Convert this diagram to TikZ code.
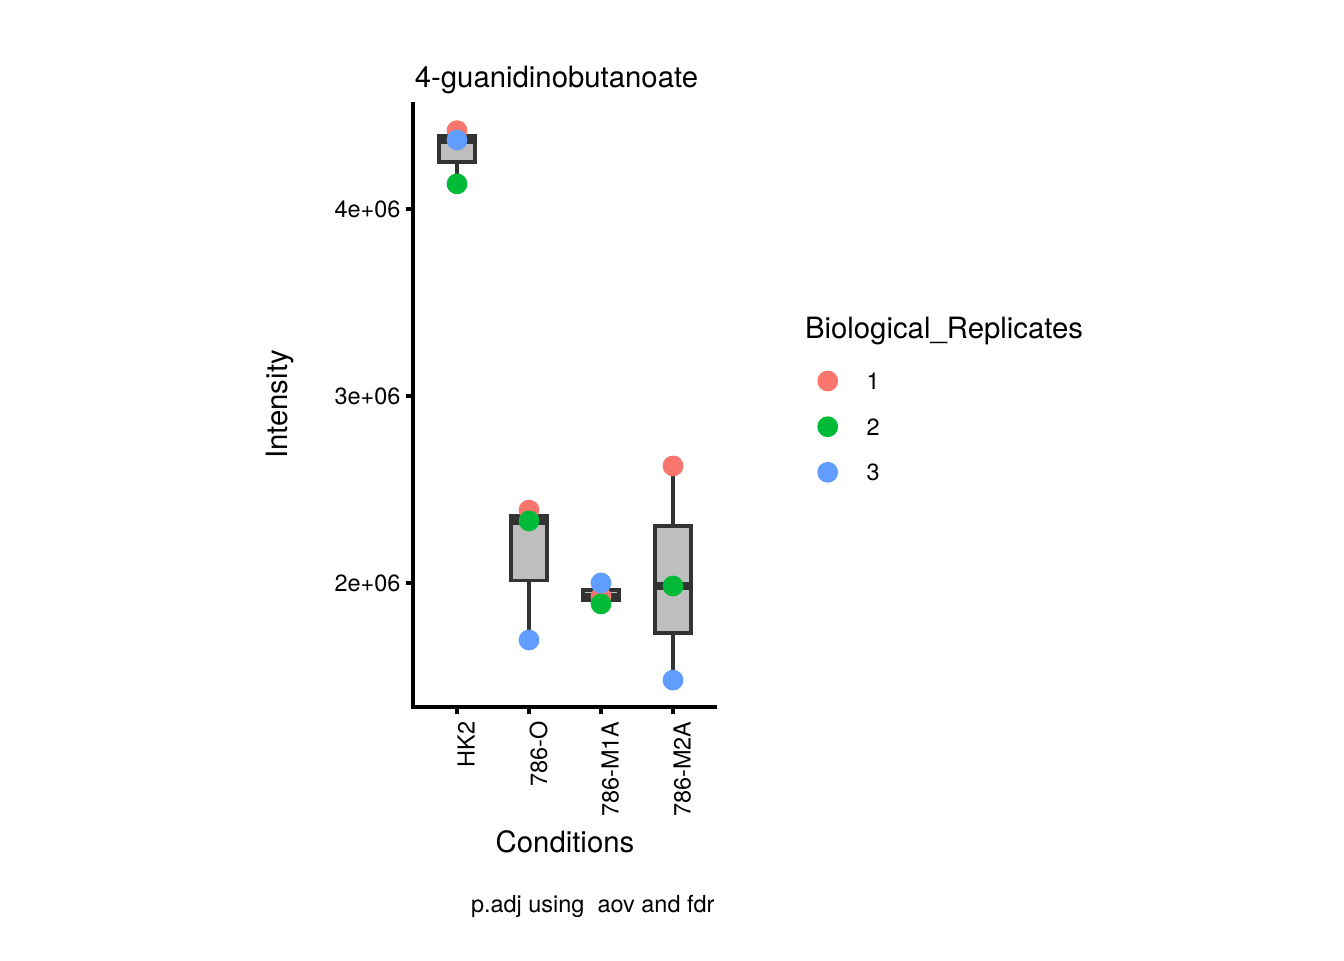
\documentclass[tikz,border=0pt]{standalone}
\usepackage{fontspec}
\setmainfont{TeX Gyre Heros}
\definecolor{rep1}{HTML}{F8766D}
\definecolor{rep2}{HTML}{00BA38}
\definecolor{rep3}{HTML}{619CFF}
\definecolor{boxfill}{HTML}{BEBEBE}
\definecolor{boxedge}{HTML}{333333}
\begin{document}
\begin{tikzpicture}
  [x=0.375pt,y=-0.375pt,every node/.style={inner sep=0pt},
   bigtxt/.style={font=\fontsize{11}{13}\selectfont},
   smalltxt/.style={font=\fontsize{8.8}{10.5}\selectfont},
   axisline/.style={line width=1.15pt,black},
   boxline/.style={line width=1.35pt,draw=boxedge,fill=boxfill},
   whisk/.style={line width=1.25pt,boxedge},
   medline/.style={line width=2.7pt,boxedge},
   obs/.style={circle,minimum size=7.8pt}]
\useasboundingbox (0,0) rectangle (1344,960);

% axes and ticks
\draw[axisline] (413,102) -- (413,707) -- (717,707);
\foreach \yy/\lab in {209/4e+06,396/3e+06,583/2e+06}{
  \draw[axisline] (413,\yy) -- ++(-7.33,0);
  \node (ylab\yy)[smalltxt,anchor=east] at (401,\yy) {\lab};
}
\foreach \xx/\lab in {457/HK2,529/786-O,601/786-M1A,673/786-M2A}{
  \draw[axisline] (\xx,707) -- ++(0,7.33);
  \node (xlab\xx)[smalltxt,rotate=90,anchor=north east] at (\xx,721) {\lab};
}

% whiskers
\draw[whisk] (457,161.9) -- (457,183.8);
\draw[whisk] (457,135.3) -- (457,130.6);
\draw[whisk] (529,580.5) -- (529,640);
\draw[whisk] (529,515.5) -- (529,510.1);
\draw[whisk] (601,600.3) -- (601,603.9);
\draw[whisk] (601,589.8) -- (601,583);
\draw[whisk] (673,633) -- (673,680.1);
\draw[whisk] (673,526) -- (673,465.9);

% boxes
\draw[boxline] (439,135.3) rectangle (475,161.9);
\draw[medline] (439,140) -- (475,140);
\draw[boxline] (511,515.5) rectangle (547,580.5);
\draw[medline] (511,520.9) -- (547,520.9);
\draw[boxline] (583,589.8) rectangle (619,600.3);
\draw[medline] (583,596.7) -- (619,596.7);
\draw[boxline] (655,526) rectangle (691,633);
\draw[medline] (655,586) -- (691,586);

% replicates
\node (hkr)[obs,fill=rep1] at (457,130.6) {};
\node (hkg)[obs,fill=rep2] at (457,183.8) {};
\node (hkb)[obs,fill=rep3] at (457,140) {};
\node (or)[obs,fill=rep1] at (529,510.1) {};
\node (og)[obs,fill=rep2] at (529,520.9) {};
\node (ob)[obs,fill=rep3] at (529,640) {};
\node (mar)[obs,fill=rep1] at (601,596.7) {};
\node (mag)[obs,fill=rep2] at (601,603.9) {};
\node (mab)[obs,fill=rep3] at (601,583) {};
\node (mbr)[obs,fill=rep1] at (673,465.9) {};
\node (mbg)[obs,fill=rep2] at (673,586) {};
\node (mbb)[obs,fill=rep3] at (673,680.1) {};

% titles
\node (title)[bigtxt,anchor=base west] at (414.3,87) {4-guanidinobutanoate};
\node (ytitle)[bigtxt,rotate=90,anchor=base] at (287,404.5) {Intensity};
\node (xtitle)[bigtxt,anchor=base] at (565,852) {Conditions};
\node (note)[smalltxt,anchor=base east] at (715,912) {p.adj using\ \ aov and fdr};

% legend
\node (legtitle)[bigtxt,anchor=base west] at (804.5,338) {Biological\_Replicates};
\node (key1)[obs,fill=rep1] at (827.7,381) {};
\node (key2)[obs,fill=rep2] at (827.7,426.7) {};
\node (key3)[obs,fill=rep3] at (827.7,472.3) {};
\node (lab1)[smalltxt,anchor=west] at (866,381) {1};
\node (lab2)[smalltxt,anchor=west] at (866,426.7) {2};
\node (lab3)[smalltxt,anchor=west] at (866,472.3) {3};
\end{tikzpicture}
\end{document}
